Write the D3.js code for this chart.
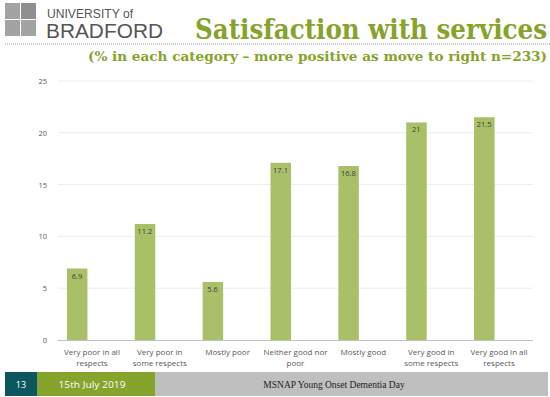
<!DOCTYPE html>
<html>
<head>
<meta charset="utf-8">
<script src="https://cdnjs.cloudflare.com/ajax/libs/d3/7.8.5/d3.min.js"></script>
<style>
  body { margin: 0; background: #fff; }
  svg { display: block; }
</style>
</head>
<body>
<script>
// chart data
var categories = [
  ["Very poor in all", "respects"],
  ["Very poor in", "some respects"],
  ["Mostly poor"],
  ["Neither good nor", "poor"],
  ["Mostly good"],
  ["Very good in", "some respects"],
  ["Very good in all", "respects"]
];
var values = [6.9, 11.2, 5.6, 17.1, 16.8, 21, 21.5];
var yTicks = [0, 5, 10, 15, 20, 25];

var W = 550, H = 397;
var svg = d3.select("body").append("svg").attr("width", W).attr("height", H);

// header ------------------------------------------------------------
var logo = svg.append("g");
var sq = [[5, 3], [21, 3], [5, 20], [21, 20]];
logo.selectAll("rect").data(sq).enter().append("rect")
  .attr("x", d => d[0]).attr("y", d => d[1])
  .attr("width", 15).attr("height", 16)
  .attr("fill", (d, i) => i === 1 ? "#8f8f8f" : "#a3a3a3");
logo.append("text").text("UNIVERSITY of")
  .attr("x", 47).attr("y", 18)
  .attr("textLength", 86).attr("lengthAdjust", "spacingAndGlyphs")
  .style("font-family", "Liberation Sans, Arial, sans-serif")
  .style("font-size", "12.5px").attr("fill", "#555");
logo.append("text").text("BRADFORD")
  .attr("x", 46).attr("y", 38)
  .attr("textLength", 117).attr("lengthAdjust", "spacingAndGlyphs")
  .style("font-family", "Liberation Sans, Arial, sans-serif")
  .style("font-size", "20px").attr("fill", "#555");

svg.append("line").attr("x1", 5).attr("x2", 550).attr("y1", 44).attr("y2", 44)
  .attr("stroke", "#999").attr("stroke-width", 1).attr("stroke-dasharray", "1,1");

svg.append("text").text("Satisfaction with services")
  .attr("x", 547).attr("y", 39).attr("text-anchor", "end")
  .attr("textLength", 352).attr("lengthAdjust", "spacingAndGlyphs")
  .style("font-family", "DejaVu Serif, Georgia, serif")
  .style("font-weight", "bold").style("font-size", "27px").attr("fill", "#86a32b");

svg.append("text").text("(% in each category \u2013 more positive as move to right n=233)")
  .attr("x", 547).attr("y", 61).attr("text-anchor", "end")
  .attr("textLength", 459).attr("lengthAdjust", "spacingAndGlyphs")
  .style("font-family", "DejaVu Serif, Georgia, serif")
  .style("font-weight", "bold").style("font-size", "13.5px").attr("fill", "#86a32b");

// chart -------------------------------------------------------------
var plotL = 58, plotR = 533, plotT = 81, plotB = 340;
var barShift = -15; // bars sit left of their category labels in the original

var band = d3.scaleBand().domain(d3.range(categories.length)).range([plotL, plotR]);
var y = d3.scaleLinear().domain([0, 25]).range([plotB, plotT]);

var g = svg.append("g");

g.selectAll(".grid").data(yTicks.filter(d => d > 0)).enter().append("line")
  .attr("x1", plotL).attr("x2", plotR)
  .attr("y1", d => y(d)).attr("y2", d => y(d))
  .attr("stroke", "#ececec").attr("stroke-width", 1);

var yAxis = d3.axisLeft(y).tickValues(yTicks).tickSize(0).tickPadding(0);
var ya = g.append("g").attr("transform", "translate(" + (plotL - 11) + ",0)").call(yAxis);
ya.select(".domain").remove();
ya.selectAll("text")
  .style("font-family", "Open Sans, sans-serif").style("font-size", "7.5px").attr("fill", "#595959");

g.selectAll(".bar").data(values).enter().append("rect")
  .attr("x", (d, i) => band(i) + band.bandwidth() / 2 - 10 + barShift)
  .attr("width", 20.5)
  .attr("y", d => y(d))
  .attr("height", d => y(0) - y(d))
  .attr("fill", "#a9bf68");

g.selectAll(".lbl").data(values).enter().append("text")
  .text(d => d)
  .attr("x", (d, i) => band(i) + band.bandwidth() / 2 + barShift)
  .attr("y", d => y(d) + 10)
  .attr("text-anchor", "middle")
  .style("font-family", "Open Sans, sans-serif").style("font-size", "7.5px").attr("fill", "#404040");

g.append("line").attr("x1", plotL).attr("x2", plotR)
  .attr("y1", plotB + 0.5).attr("y2", plotB + 0.5)
  .attr("stroke", "#bfbfbf").attr("stroke-width", 1);

var cat = g.selectAll(".cat").data(categories).enter().append("text")
  .attr("text-anchor", "middle")
  .style("font-family", "Open Sans, sans-serif").style("font-size", "8px").attr("fill", "#595959");
cat.selectAll("tspan").data((d, i) => d.map(t => ({t: t, i: i}))).enter().append("tspan")
  .attr("x", d => band(d.i) + band.bandwidth() / 2)
  .attr("y", (d, j) => plotB + 15 + j * 11)
  .text(d => d.t);

// footer ------------------------------------------------------------
var fy = 372, fh = 24;
svg.append("rect").attr("x", 5).attr("y", fy).attr("width", 32).attr("height", fh).attr("fill", "#0c5660");
svg.append("rect").attr("x", 37).attr("y", fy).attr("width", 118).attr("height", fh).attr("fill", "#86a32b");
svg.append("rect").attr("x", 155).attr("y", fy).attr("width", 393).attr("height", fh).attr("fill", "#bfbfbf");
svg.append("text").text("13").attr("x", 21).attr("y", fy + 15.5).attr("text-anchor", "middle")
  .style("font-family", "Open Sans, sans-serif").style("font-size", "9px").attr("fill", "#fff");
svg.append("text").text("15th July 2019").attr("x", 92).attr("y", fy + 15.5).attr("text-anchor", "middle")
  .attr("textLength", 67).attr("lengthAdjust", "spacingAndGlyphs")
  .style("font-family", "Open Sans, sans-serif").style("font-size", "9.5px").attr("fill", "#fff");
svg.append("text").text("MSNAP Young Onset Dementia Day").attr("x", 334).attr("y", fy + 15.5)
  .attr("text-anchor", "middle")
  .style("font-family", "Liberation Serif, Times New Roman, serif").style("font-size", "9.5px").attr("fill", "#222");
</script>
</body>
</html>
